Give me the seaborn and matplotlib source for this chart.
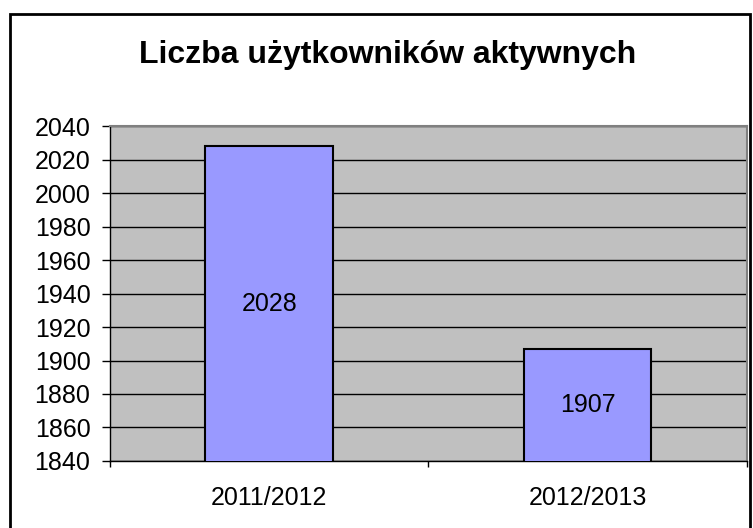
import pandas as pd
import matplotlib.pyplot as plt
import seaborn as sns
import numpy as np
from matplotlib.patches import Rectangle

seasons = ["2011/2012", "2012/2013"]
users = [2028, 1907]
title = "Liczba użytkowników aktywnych"
y_min, y_max, y_step = 1840, 2040, 20

df = pd.DataFrame({"season": seasons, "users": users})

sns.set_style("white")
plt.rcParams['font.family'] = ['Liberation Sans', 'DejaVu Sans']
plt.rcParams['text.color'] = 'black'
plt.rcParams['xtick.color'] = 'black'
plt.rcParams['ytick.color'] = 'black'

fig = plt.figure(figsize=(7.53, 5.28), dpi=100)
ax = fig.add_axes([0.146, 0.127, 0.846, 0.634])
ax.set_facecolor("#C0C0C0")

sns.barplot(data=df, x="season", y="users", color="#9999FF", width=0.4,
            edgecolor="black", linewidth=1.5, saturation=1, ax=ax, zorder=3)

ax.set_ylim(y_min, y_max)
ax.set_yticks(np.arange(y_min, y_max + 1, y_step))
ax.set_xlim(-0.5, len(seasons) - 0.5)
ax.yaxis.grid(True, color="black", linewidth=1)
ax.set_axisbelow(True)
ax.set_xlabel("")
ax.set_ylabel("")

# category boundary ticks like Excel
ax.set_xticks(np.arange(-0.5, len(seasons), 1.0), minor=True)
ax.tick_params(axis="x", which="minor", bottom=True, length=4.5, width=1, color="black", direction="out")
ax.tick_params(axis="x", which="major", bottom=True, length=0, labelsize=18, pad=18, labelcolor="black")
ax.tick_params(axis="y", left=True, length=6, width=1, color="black", direction="out", labelsize=18, pad=8,
               labelcolor="black")

for s in ["top", "right"]:
    ax.spines[s].set_color("#808080")
    ax.spines[s].set_linewidth(1.5)
for s in ["left", "bottom"]:
    ax.spines[s].set_color("black")
    ax.spines[s].set_linewidth(1)

for i, v in enumerate(users):
    ax.text(i, (y_min + v) / 2, str(v), ha="center", va="center", fontsize=18, color="black", zorder=5)

fig.text(0.515, 0.896, title, ha="center", va="center", fontsize=23, fontweight="bold", color="black")

fig.patches.append(Rectangle((0.013, -0.05), 0.983, 1.024, transform=fig.transFigure,
                             fill=False, edgecolor="black", linewidth=2))

fig.savefig("out.png", dpi=100)
